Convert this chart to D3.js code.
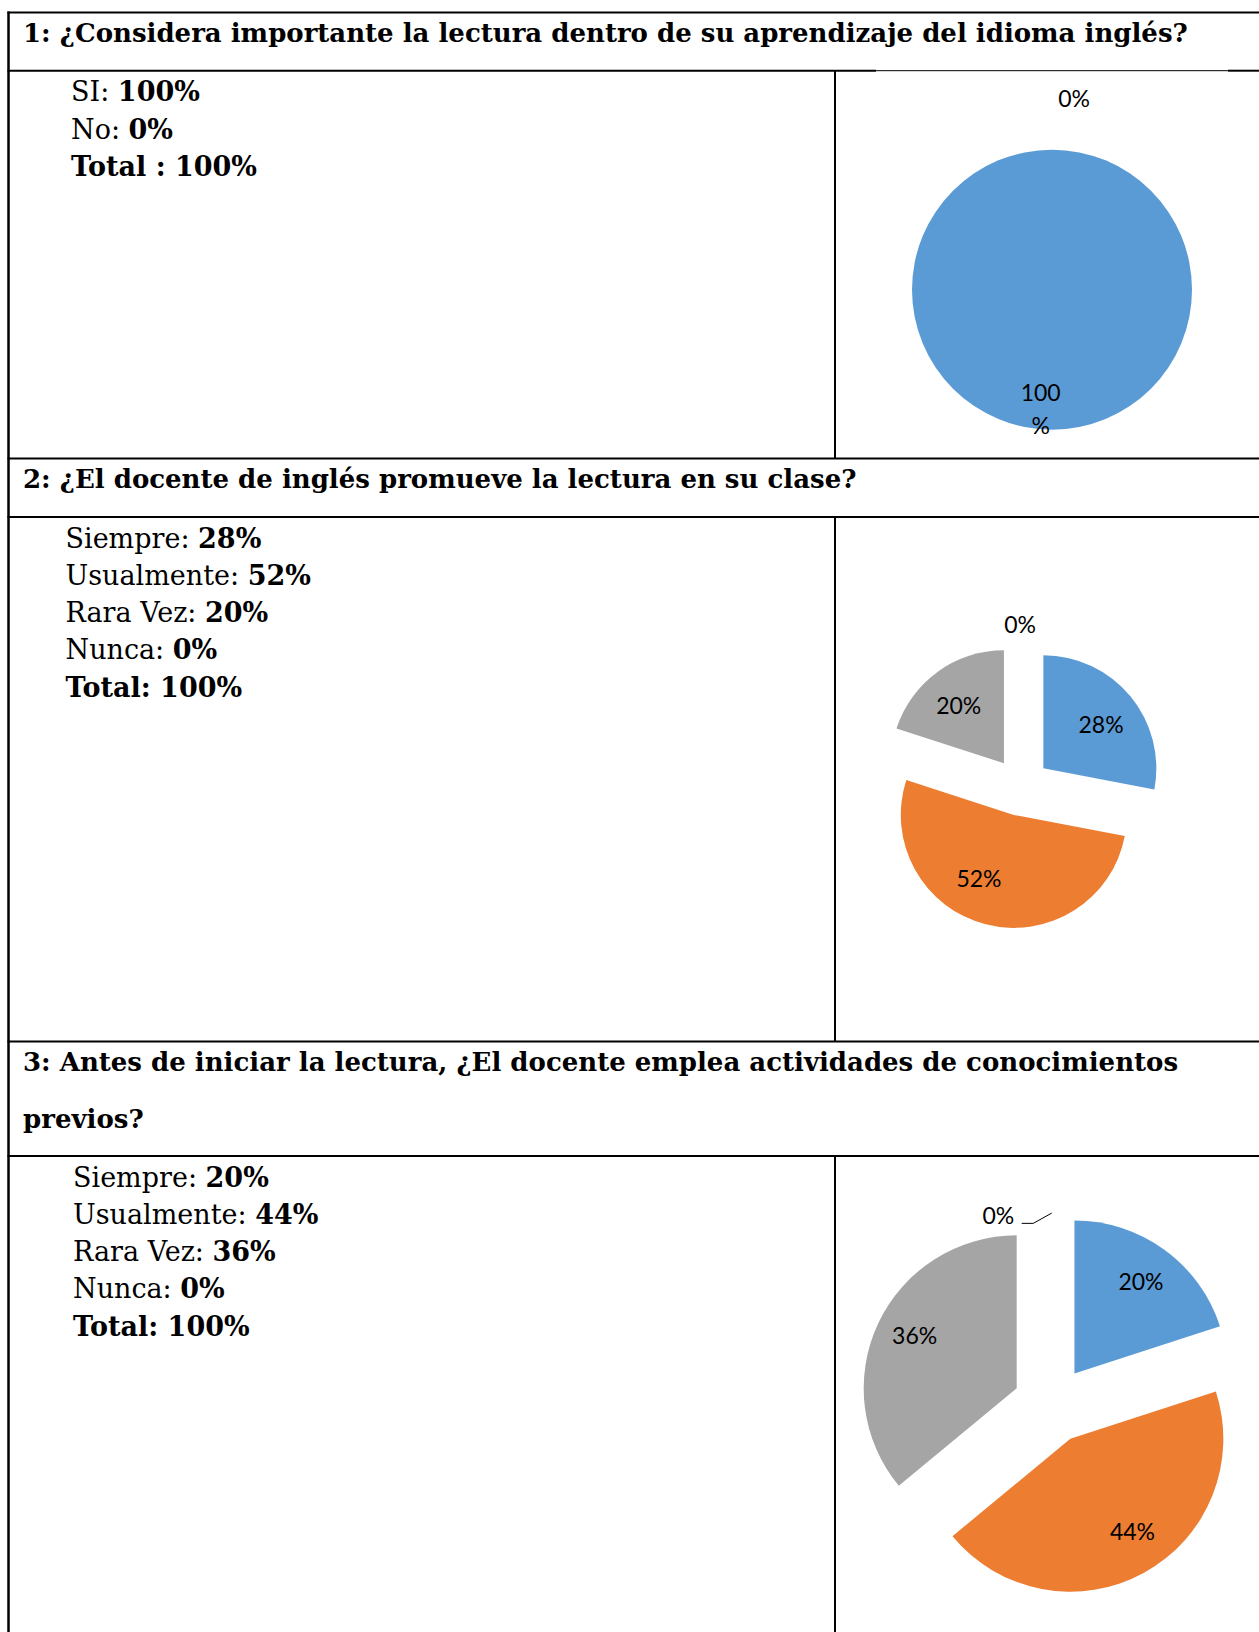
<!DOCTYPE html>
<html><head><meta charset="utf-8">
<script src="https://cdn.jsdelivr.net/npm/d3@7"></script>
<style>body{margin:0;background:#fff} svg{display:block}</style>
</head><body>
<svg id="c" width="1259" height="1632"></svg>
<script>
// ---------- DATA ----------
const questions = [
  "1: ¿Considera importante la lectura dentro de su aprendizaje del idioma inglés?",
  "2: ¿El docente de inglés promueve la lectura en su clase?",
  "3: Antes de iniciar la lectura, ¿El docente emplea actividades de conocimientos\nprevios?"
];
const categories1 = ["SI", "No"];
const values1 = [100, 0];
const categories2 = ["Siempre", "Usualmente", "Rara Vez", "Nunca"];
const values2 = [28, 52, 20, 0];
const categories3 = ["Siempre", "Usualmente", "Rara Vez", "Nunca"];
const values3 = [20, 44, 36, 0];
const totalLabels = ["Total :", "Total:", "Total:"];
const totalValues = [100, 100, 100];
const sliceColors = ["#5B9BD5", "#ED7D31", "#A5A5A5", "#FFC000"];

// ---------- LAYOUT ----------
const W = 1259, H = 1632;
const leftX = 8.5, colX = 835;
const rows = [
  {hTop: 12.5, hBot: 70.7, bBot: 458.5, textX: 71, cats: categories1, vals: values1,
   pie: {cx: 1052, cy: 289.7, r: 140, explode: 0, labelR: [0.86], labelAdj: [5.4], wrap: true,
         zeroR: 1.376, zeroAng: 6.6, leader: false}},
  {hTop: 458.5, hBot: 517, bBot: 1041.5, textX: 65.5, cats: categories2, vals: values2,
   pie: {cx: 1021, cy: 786.8, r: 113, explode: 29, labelR: [0.64, 0.64, 0.65], labelAdj: [2.6, 14.4, -2], wrap: false,
         zeroR: 1.177, zeroAng: -0.4, leader: false}},
  {hTop: 1041.5, hBot: 1156, bBot: H, textX: 73, cats: categories3, vals: values3,
   pie: {cx: 1051.7, cy: 1404.8, r: 153, explode: 38.7, labelR: [0.74, 0.73, 0.75], labelAdj: [0, -5, 2], wrap: false,
         zeroR: 1.041, zeroAng: -19.6, leader: true}}
];
const headerFont = "'DejaVu Serif', serif";
const bodyFont = "'DejaVu Serif', serif";
const labelFont = "Lato, 'Open Sans', sans-serif";

const svg = d3.select("#c");
svg.append("rect").attr("width", W).attr("height", H).attr("fill", "#fff");

const lines = svg.append("g").attr("stroke", "#000").attr("fill", "none");
function hline(y, x1, x2, w) { lines.append("line").attr("x1", x1).attr("x2", x2).attr("y1", y).attr("y2", y).attr("stroke-width", w); }
function vline(x, y1, y2, w) { lines.append("line").attr("x1", x).attr("x2", x).attr("y1", y1).attr("y2", y2).attr("stroke-width", w); }

rows.forEach((row, k) => {
  hline(row.hTop, leftX - 1, W, 2);
  if (k === 0) {
    hline(row.hBot, leftX - 1, 876, 2);
    hline(row.hBot, 876, 1228, 1);
    hline(row.hBot, 1228, W, 2);
  } else {
    hline(row.hBot, leftX - 1, W, 2);
  }
  vline(colX, row.hBot, row.bBot, 2);
});
vline(leftX, rows[0].hTop - 1, H, 2.5);

// headers
rows.forEach((row, k) => {
  const parts = questions[k].split("\n");
  parts.forEach((p, j) => {
    svg.append("text").attr("x", 23).attr("y", row.hTop + 29 + j * 57)
      .attr("font-family", headerFont).attr("font-weight", "bold").attr("font-size", 26)
      .attr("fill", "#000").text(p);
  });
});

// body text
rows.forEach((row, k) => {
  const items = row.cats.map((c, i) => ({lab: c + ": ", val: row.vals[i] + "%", boldAll: false}));
  items.push({lab: totalLabels[k] + " ", val: totalValues[k] + "%", boldAll: true});
  items.forEach((it, i) => {
    const t = svg.append("text").attr("x", row.textX).attr("y", row.hBot + 30.5 + i * 37.3)
      .attr("font-family", bodyFont).attr("font-size", 27).attr("fill", "#000")
      .attr("xml:space", "preserve");
    t.append("tspan").attr("font-weight", it.boldAll ? "bold" : "normal").text(it.lab);
    t.append("tspan").attr("font-weight", "bold").text(it.val);
  });
});

// pies
const pieGen = d3.pie().sort(null).value(d => d).startAngle(0).endAngle(2 * Math.PI);
const deg = Math.PI / 180;
rows.forEach((row) => {
  const P = row.pie;
  const g = svg.append("g").attr("transform", `translate(${P.cx},${P.cy})`);
  const arcs = pieGen(row.vals);
  const arc = d3.arc().innerRadius(0).outerRadius(P.r);
  let li = 0;
  arcs.forEach((d, i) => {
    const mid = (d.startAngle + d.endAngle) / 2;
    const ox = P.explode * Math.sin(mid), oy = -P.explode * Math.cos(mid);
    if (d.value > 0) {
      g.append("path").attr("d", arc(d)).attr("transform", `translate(${ox},${oy})`)
        .attr("fill", sliceColors[i]);
      const a = mid + P.labelAdj[li] * deg, rr = P.labelR[li] * P.r;
      li++;
      const lx = ox + rr * Math.sin(a), ly = oy - rr * Math.cos(a);
      const t = g.append("text").attr("x", lx).attr("y", ly).attr("text-anchor", "middle")
        .attr("font-family", labelFont).attr("font-size", 23).attr("fill", "#000");
      if (P.wrap) {
        t.append("tspan").attr("x", lx).attr("dy", "-0.38em").text(String(d.value));
        t.append("tspan").attr("x", lx).attr("dy", "1.45em").text("%");
      } else {
        t.attr("dy", "0.36em").text(d.value + "%");
      }
    } else {
      const a = P.zeroAng * deg, rr = P.zeroR * P.r;
      const lx = ox + rr * Math.sin(a), ly = oy - rr * Math.cos(a);
      g.append("text").attr("x", lx).attr("y", ly).attr("dy", "0.36em").attr("text-anchor", "middle")
        .attr("font-family", labelFont).attr("font-size", 23).attr("fill", "#000").text(d.value + "%");
      if (P.leader) {
        const ex = ox + P.r * Math.sin(mid), ey = oy - P.r * Math.cos(mid);
        const sx = lx + 23.4, sy = ly + 7.3;
        g.append("path").attr("d", d3.line()([[sx, sy], [sx + 11.6, sy], [ex, ey]]))
          .attr("fill", "none").attr("stroke", "#000").attr("stroke-width", 1);
      }
    }
  });
});
</script>
</body></html>
